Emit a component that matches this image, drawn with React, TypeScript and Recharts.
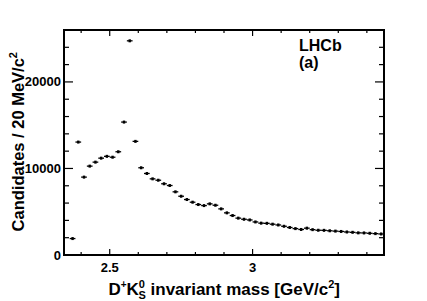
import { ScatterChart, Scatter, XAxis, YAxis, ErrorBar, ReferenceArea } from 'recharts';

// bin centres [GeV/c^2], 20 MeV bins
const massBins = [
  2.37, 2.39, 2.41, 2.43, 2.45, 2.47, 2.49, 2.51, 2.53, 2.55,
  2.57, 2.59, 2.61, 2.63, 2.65, 2.67, 2.69, 2.71, 2.73, 2.75,
  2.77, 2.79, 2.81, 2.83, 2.85, 2.87, 2.89, 2.91, 2.93, 2.95,
  2.97, 2.99, 3.01, 3.03, 3.05, 3.07, 3.09, 3.11, 3.13, 3.15,
  3.17, 3.19, 3.21, 3.23, 3.25, 3.27, 3.29, 3.31, 3.33, 3.35,
  3.37, 3.39, 3.41, 3.43, 3.45,
];

const candidates = [
  1900, 13050, 9000, 10270, 10730, 11190, 11400, 11300, 11930, 15360,
  24750, 13130, 10080, 9420, 8800, 8640, 8230, 8030, 7300, 6790,
  6410, 6100, 5830, 5710, 5910, 5750, 5330, 4870, 4560, 4260,
  4130, 4050, 3820, 3680, 3660, 3560, 3470, 3320, 3180, 3050,
  2950, 3100, 2930, 2860, 2850, 2800, 2760, 2720, 2660, 2620,
  2560, 2550, 2510, 2470, 2430,
];

const xTicks = [2.4, 2.5, 2.6, 2.7, 2.8, 2.9, 3, 3.1, 3.2, 3.3, 3.4];
const xMajor = [2.5, 3];
const yTicks = [0, 2000, 4000, 6000, 8000, 10000, 12000, 14000, 16000, 18000, 20000, 22000, 24000, 26000];
const yMajor = [0, 10000, 20000];

const binHalfWidth = 0.01;

const data = massBins.map((m, i) => ({ mass: m, count: candidates[i], xerr: binHalfWidth }));

const W = 427;
const H = 301;
const LEFT = 64;
const RIGHT = 384;
const TOP = 30;
const BOTTOM = 255;
const FONT = '"Liberation Sans", Arial, Helvetica, sans-serif';

const isMajor = (list: number[], v: number) => list.some((m) => Math.abs(m - v) < 1e-6);

function XTick(props: any) {
  const { x, payload } = props;
  const major = isMajor(xMajor, payload.value);
  const len = major ? 6 : 3;
  return (
    <g>
      <line x1={x} y1={BOTTOM} x2={x} y2={BOTTOM - len} stroke="#000" strokeWidth={1.2} />
      <line x1={x} y1={TOP} x2={x} y2={TOP + len} stroke="#000" strokeWidth={1.2} />
      {major && (
        <text x={x} y={272} textAnchor="middle" fontFamily={FONT} fontWeight="bold" fontSize={13} fill="#000">
          {String(payload.value)}
        </text>
      )}
    </g>
  );
}

function YTick(props: any) {
  const { y, payload } = props;
  const major = isMajor(yMajor, payload.value);
  const len = major ? 9 : 5;
  return (
    <g>
      <line x1={LEFT} y1={y} x2={LEFT + len} y2={y} stroke="#000" strokeWidth={1.2} />
      <line x1={RIGHT} y1={y} x2={RIGHT - len} y2={y} stroke="#000" strokeWidth={1.2} />
      {major && (
        <text x={LEFT - 3} y={y + 4.5} textAnchor="end" fontFamily={FONT} fontWeight="bold" fontSize={13} fill="#000">
          {payload.value}
        </text>
      )}
    </g>
  );
}

function Marker(props: any) {
  const { cx, cy } = props;
  return <rect x={cx - 1.2} y={cy - 1.5} width={2.4} height={3} fill="#000" />;
}

export default function App() {
  return (
    <div style={{ position: 'absolute', left: 0, top: 0, width: W, height: H, background: '#fff' }}>
      <ScatterChart width={W} height={H} margin={{ top: TOP, right: W - RIGHT, bottom: 0, left: 0 }}>
        <XAxis
          type="number"
          dataKey="mass"
          domain={[2.34, 3.46]}
          ticks={xTicks}
          allowDataOverflow
          height={H - BOTTOM}
          tickSize={0}
          tickMargin={0}
          tickLine={false}
          axisLine={false}
          tick={<XTick />}
          interval={0}
        />
        <YAxis
          type="number"
          dataKey="count"
          domain={[0, 26000]}
          ticks={yTicks}
          allowDataOverflow
          width={LEFT}
          tickSize={0}
          tickMargin={0}
          tickLine={false}
          axisLine={false}
          tick={<YTick />}
          interval={0}
        />
        <ReferenceArea
          x1={2.34}
          x2={3.46}
          y1={0}
          y2={26000}
          fill="none"
          stroke="#000"
          strokeWidth={2}
          fillOpacity={0}
          ifOverflow="visible"
        />
        <Scatter data={data} shape={<Marker />} isAnimationActive={false} fill="#000">
          <ErrorBar dataKey="xerr" direction="x" width={0} stroke="#000" strokeWidth={1.3} />
        </Scatter>
        <text
          transform="translate(24, 52) rotate(-90)"
          textAnchor="end"
          fontFamily={FONT}
          fontWeight="bold"
          fontSize={16.5}
          fill="#000"
        >
          Candidates / 20 MeV/c
          <tspan fontSize={11} dy={-7}>2</tspan>
        </text>
        <text x={340} y={295} textAnchor="end" fontFamily={FONT} fontWeight="bold" fontSize={17} fill="#000">
          D
          <tspan fontSize={10} dy={-7}>+</tspan>
          <tspan dy={7}>K</tspan>
          <tspan fontSize={11} dy={-7}>0</tspan>
          <tspan fontSize={11} dx={-6.5} dy={11}>S</tspan>
          <tspan dy={-4}> invariant mass [GeV/c</tspan>
          <tspan fontSize={11} dy={-7}>2</tspan>
          <tspan dy={7}>]</tspan>
        </text>
        <text x={299} y={51} fontFamily={FONT} fontWeight="bold" fontSize={16} fill="#000">
          LHCb
        </text>
        <text x={299} y={68} fontFamily={FONT} fontWeight="bold" fontSize={16} fill="#000">
          (a)
        </text>
      </ScatterChart>
    </div>
  );
}
